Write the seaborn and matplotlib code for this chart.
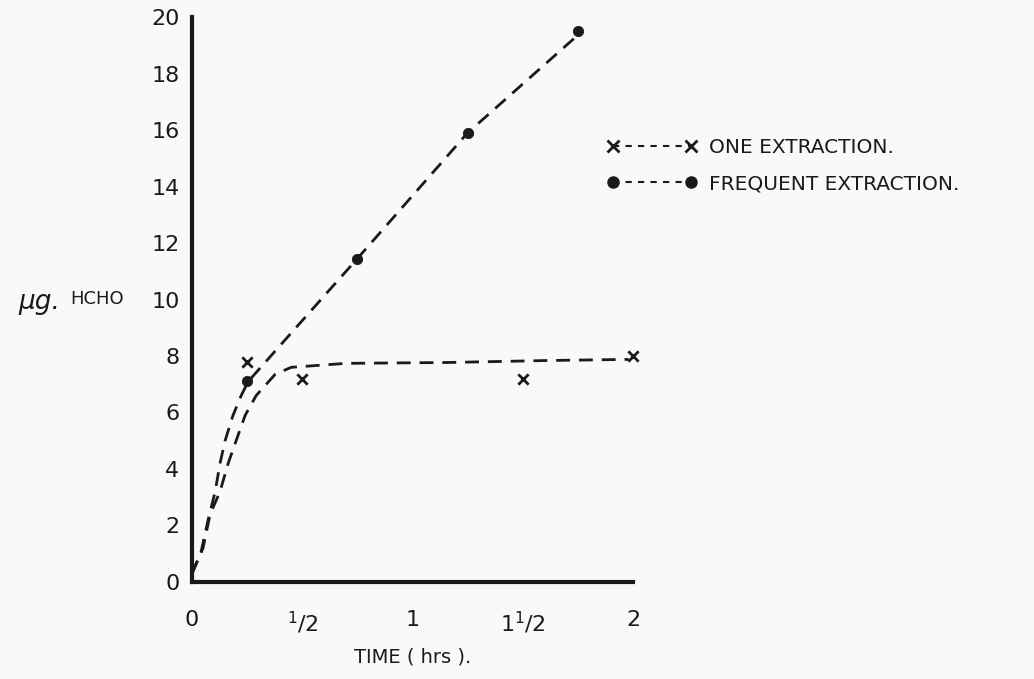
import matplotlib
matplotlib.use("Agg")
import matplotlib.pyplot as plt
from matplotlib.lines import Line2D
import seaborn as sns
import pandas as pd

# Measured points (time in hours, micrograms of formaldehyde)
one_time = [0.25, 0.5, 1.5, 2.0]
one_value = [7.8, 7.2, 7.2, 8.0]
freq_time = [0.25, 0.75, 1.25, 1.75]
freq_value = [7.1, 11.45, 15.9, 19.5]

# Hand-drawn trend curves traced through the measurements
one_curve_time = [0.0, 0.05, 0.082, 0.127, 0.164, 0.20, 0.241, 0.291, 0.377,
                  0.45, 0.70, 1.16, 1.61, 1.98]
one_curve_value = [0.3, 1.2, 2.4, 3.2, 4.2, 5.0, 5.9, 6.6, 7.35,
                   7.6, 7.74, 7.77, 7.84, 7.88]
freq_curve_time = [0.0, 0.041, 0.073, 0.105, 0.127, 0.15, 0.186, 0.223, 0.255,
                   0.38, 0.75, 1.25, 1.77]
freq_curve_value = [0.3, 1.06, 2.2, 3.2, 4.2, 5.0, 5.9, 6.6, 7.1,
                    8.2, 11.45, 15.9, 19.5]

x_ticks = [0, 0.5, 1, 1.5, 2]
x_tick_labels = ["0", r"$\mathregular{^1/2}$", "1", r"$\mathregular{1^1/2}$", "2"]
y_ticks = [0, 2, 4, 6, 8, 10, 12, 14, 16, 18, 20]

sns.set_style("white")
plt.rcParams["font.family"] = ["DejaVu Sans"]
plt.rcParams["mathtext.fontset"] = "dejavusans"
plt.rcParams["text.color"] = "#1a1a1a"

bg = "#f9f9f7"
ink = "#1a1a1a"
fig = plt.figure(figsize=(10.34, 6.79), dpi=100, facecolor=bg)
ax = fig.add_axes([0.1857, 0.1429, 0.4265, 0.832])
ax.set_facecolor(bg)

dash = (5, 3.2)
curves = pd.DataFrame({
    "t": one_curve_time + freq_curve_time,
    "v": one_curve_value + freq_curve_value,
    "s": ["one"] * len(one_curve_time) + ["freq"] * len(freq_curve_time),
})
for name, grp in curves.groupby("s"):
    sns.lineplot(data=grp, x="t", y="v", ax=ax, color=ink, lw=2.0,
                 sort=False, estimator=None)
for ln in ax.get_lines():
    ln.set_dashes(dash)
    ln.set_clip_on(False)

sns.scatterplot(x=one_time, y=one_value, ax=ax, marker="x", s=55,
                color=ink, linewidth=2.0, clip_on=False, zorder=5)
sns.scatterplot(x=freq_time, y=freq_value, ax=ax, marker="o", s=55,
                color=ink, edgecolor=ink, clip_on=False, zorder=5)

ax.set_xlim(0, 2)
ax.set_ylim(0, 20)
for side in ["top", "right"]:
    ax.spines[side].set_visible(False)
for side in ["left", "bottom"]:
    ax.spines[side].set_linewidth(3.0)
    ax.spines[side].set_color(ink)

ax.set_xticks(x_ticks)
ax.set_xticklabels(x_tick_labels, fontsize=16)
ax.set_yticks(y_ticks)
ax.set_yticklabels([str(v) for v in y_ticks], fontsize=16)
ax.tick_params(axis="y", direction="out", length=7, width=2, pad=2,
               colors=ink)
ax.tick_params(axis="x", direction="in", length=5, width=2, pad=20,
               colors=ink)
ax.set_xlabel("TIME ( hrs ).", fontsize=14, labelpad=8, color=ink)
ax.set_ylabel("")

fig.text(0.018, 0.555, "μg.", fontsize=19, style="italic", va="center",
         ha="left", color=ink)
fig.text(0.068, 0.560, "HCHO", fontsize=13, va="center", ha="left",
         color=ink)

handles = [
    Line2D([], [], color=ink, lw=1.5, dashes=(3, 3), marker="x",
           markersize=8, markeredgewidth=2),
    Line2D([], [], color=ink, lw=1.5, dashes=(3, 3), marker="o",
           markersize=8),
]
fig.legend(handles, ["ONE EXTRACTION.", "FREQUENT EXTRACTION."],
           loc="upper left", bbox_to_anchor=(0.569, 0.823), frameon=False,
           numpoints=2, handlelength=4.5, handletextpad=0.6,
           labelspacing=0.85, fontsize=14.5, labelcolor=ink)

fig.savefig("out.png", dpi=100, facecolor=bg)
